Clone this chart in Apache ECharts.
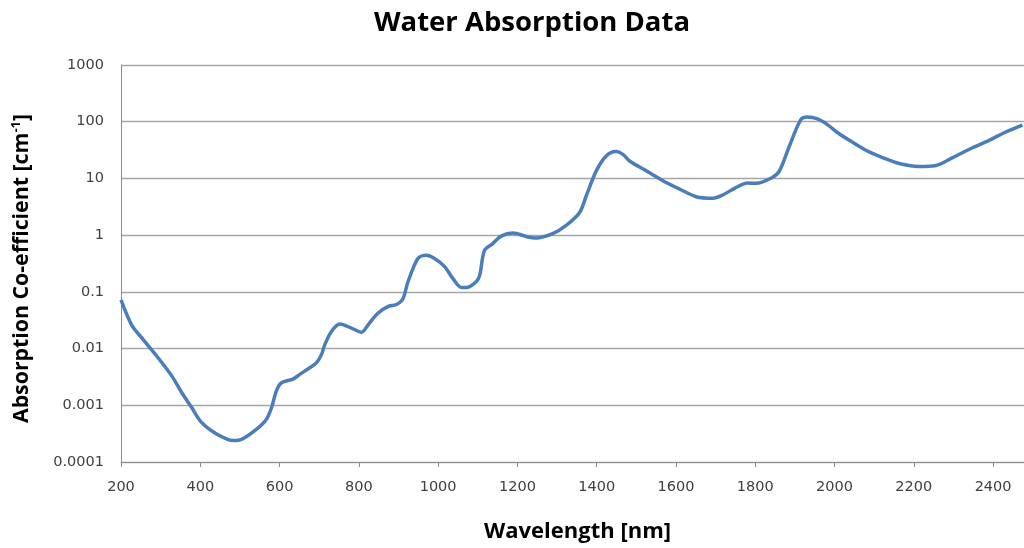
<!DOCTYPE html>
<html>
<head>
<meta charset="utf-8">
<script src="https://cdn.jsdelivr.net/npm/echarts@6/dist/echarts.min.js"></script>
<style>html,body{margin:0;padding:0;background:#fff}#c{width:1024px;height:548px}</style>
</head>
<body>
<div id="c"></div>
<script>
const wavelengths = [200,227,256,290,328,353,378,403,441,483,504,542,567,580,592,605,634,651,676,693,706,714,731,752,781,807,823,848,873,895,911,924,949,970,991,1017,1037,1059,1071,1096,1105,1117,1138,1159,1189,1226,1247,1289,1323,1357,1374,1399,1424,1449,1466,1483,1525,1567,1609,1651,1693,1718,1752,1781,1802,1843,1861,1886,1915,1932,1957,1982,2008,2041,2083,2121,2163,2213,2256,2298,2348,2390,2424,2474];
const absorption = [0.072,0.026,0.0144,0.0074,0.0033,0.00168,0.00092,0.0005,0.000313,0.000239,0.00025,0.00038,0.00057,0.00092,0.0018,0.0025,0.0029,0.0035,0.0046,0.0056,0.0079,0.0117,0.020,0.027,0.023,0.0194,0.026,0.042,0.055,0.060,0.075,0.151,0.386,0.44,0.386,0.276,0.173,0.119,0.119,0.151,0.197,0.54,0.71,0.96,1.09,0.93,0.89,1.06,1.48,2.5,5,13.6,24.9,29.7,26.6,20.3,13.6,9.1,6.5,4.76,4.47,5.1,6.95,8.27,8.2,10.4,13.6,37,109,121,112,89,64,45.5,30.4,23.3,18.3,16.2,16.9,23.3,34.8,46.8,62,86.7];
const xTicks = [200,400,600,800,1000,1200,1400,1600,1800,2000,2200,2400];
const yTicks = ['0.0001','0.001','0.01','0.1','1','10','100','1000'];

const data = wavelengths.map((w, i) => [w, absorption[i]]);
const chart = echarts.init(document.getElementById('c'));
const titleFont = '"Open Sans", Lato, sans-serif';
const tickFont = '"DejaVu Sans", sans-serif';
chart.setOption({
  animation: false,
  title: {
    text: 'Water Absorption Data',
    left: 527,
    textAlign: 'center',
    top: 4,
    textStyle: {fontFamily: titleFont, fontWeight: 'bold', fontSize: 27.5, color: '#000'}
  },
  grid: {left: 121, top: 65, width: 904, height: 400},
  xAxis: {
    type: 'value',
    min: 200, max: 2478, interval: 200,
    name: 'Wavelength [nm]',
    nameLocation: 'middle',
    nameGap: 59,
    nameTextStyle: {fontFamily: titleFont, fontWeight: 'bold', fontSize: 22, color: '#000', padding: [0,0,0,10]},
    axisLine: {lineStyle: {color: '#8c8c8c', width: 1}},
    axisTick: {show: true, length: 5, lineStyle: {color: '#8c8c8c'}},
    axisLabel: {showMaxLabel: false, fontFamily: tickFont, fontSize: 14.5, color: '#404040', margin: 18,
      formatter: v => xTicks.includes(v) ? String(v) : ''},
    splitLine: {show: false}
  },
  yAxis: {
    type: 'log',
    logBase: 10,
    min: 0.0001, max: 1000,
    name: 'Absorption Co-efficient [cm{sup|-1}]',
    nameLocation: 'middle',
    nameRotate: 90,
    nameGap: 88,
    nameTextStyle: {fontFamily: titleFont, fontWeight: 'bold', fontSize: 21.3, color: '#000', padding: [0,10,0,0],
      rich: {sup: {fontFamily: titleFont, fontWeight: 'bold', fontSize: 13, color: '#000', verticalAlign: 'top', padding: [0,0,10,0]}}},
    axisLine: {show: true, lineStyle: {color: '#8c8c8c', width: 1}},
    axisTick: {show: false},
    axisLabel: {fontFamily: tickFont, fontSize: 14.5, color: '#404040', margin: 17,
      formatter: v => { const s = yTicks.find(t => Math.abs(Math.log10(parseFloat(t)) - Math.log10(v)) < 1e-6); return s || ''; }},
    splitLine: {show: true, lineStyle: {color: '#a6a6a6', width: 1.3}}
  },
  series: [{
    type: 'line',
    data: data,
    smooth: 0.3,
    showSymbol: false,
    lineStyle: {color: '#4a7ebb', width: 3.5},
    clip: true
  }]
});
</script>
</body>
</html>
